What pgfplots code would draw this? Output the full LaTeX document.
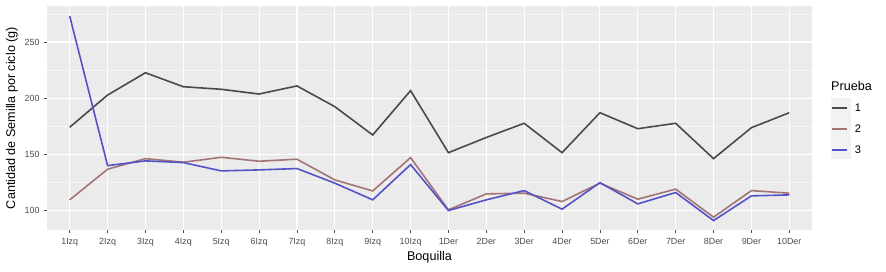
\documentclass[border=0pt]{standalone}
\usepackage{fontspec}
\setmainfont{Liberation Sans}
\usepackage{pgfplots}
\pgfplotsset{compat=1.18}
\definecolor{panelbg}{HTML}{EBEBEB}
\definecolor{ticktxt}{HTML}{4D4D4D}
\definecolor{sone}{HTML}{4A4A4A}
\definecolor{stwo}{HTML}{A37474}
\definecolor{sthree}{HTML}{5552C8}
\begin{document}
\begin{tikzpicture}[x=1pt,y=1pt]
\path[use as bounding box] (0,0) rectangle (886,271);
\fill[black!5] (831,112.5) rectangle (851,173.5);
\begin{axis}[
  at={(47pt,41pt)}, anchor=south west,
  scale only axis, width=765pt, height=224pt,
  xmin=-0.6, xmax=19.6, ymin=83, ymax=282,
  axis background/.style={fill=panelbg},
  axis line style={draw=none},
  xtick={0,...,19},
  xticklabels={1Izq,2Izq,3Izq,4Izq,5Izq,6Izq,7Izq,8Izq,9Izq,10Izq,1Der,2Der,3Der,4Der,5Der,6Der,7Der,8Der,9Der,10Der},
  ytick={100,150,200,250},
  minor ytick={125,175,225,275},
  grid=both,
  major grid style={white, line width=1.1pt},
  minor grid style={white!60!panelbg, line width=0.5pt},
  tick align=outside, major tick length=3pt, minor tick length=0pt,
  tick style={color=ticktxt, line width=0.8pt},
  xtick pos=bottom, ytick pos=left,
  /pgf/number format/assume math mode=true,
  ticklabel style={font=\fontsize{8.9}{10}\selectfont, text=ticktxt},
  xticklabel style={yshift=-2pt},
  yticklabel style={xshift=-1pt},
  xlabel={Boquilla},
  ylabel={Cantidad de Semilla por ciclo (g)},
  label style={font=\fontsize{12.6}{14}\selectfont},
  xlabel style={at={(axis description cs:0.5,-0.12)}, anchor=center},
  ylabel style={at={(axis description cs:-0.046,0.5)}, anchor=center},
  legend cell align=left,
  legend image code/.code={%
    \draw[#1, line width=1.8pt] (2pt,0pt) -- (17pt,0pt);},
  legend style={at={(rel axis cs:1.0248,0.5915)}, anchor=north west,
    draw=none, fill=none, inner sep=0pt, row sep=0pt,
    font=\fontsize{11}{13}\selectfont,
    nodes={inner sep=1pt, minimum height=21pt},
    /tikz/every odd column/.append style={column sep=6pt}},
]
\addplot[sone, line width=1.6pt] coordinates {
(0,174.3) (1,202.9) (2,222.7) (3,210.3) (4,208) (5,203.8) (6,211) (7,192.6) (8,167.4) (9,206.8)
(10,151.7) (11,165.2) (12,177.8) (13,151.7) (14,187.2) (15,173) (16,177.8) (17,146.4) (18,173.9) (19,187.2)};
\addlegendentry{1}
\addplot[stwo, line width=1.6pt] coordinates {
(0,109.8) (1,137) (2,146.4) (3,143.2) (4,147.6) (5,144.1) (6,145.9) (7,127.5) (8,117.7) (9,147.3)
(10,100.9) (11,115.1) (12,115.7) (13,108.3) (14,124.6) (15,110.4) (16,119.3) (17,94.4) (18,118) (19,115.7)};
\addlegendentry{2}
\addplot[sthree, line width=1.6pt] coordinates {
(0,273) (1,140.2) (2,144.4) (3,142.9) (4,135.5) (5,136.4) (6,137.6) (7,124.6) (8,109.8) (9,141.1)
(10,100.3) (11,109.8) (12,118) (13,101.5) (14,125.1) (15,106.2) (16,116.3) (17,91.4) (18,113.3) (19,114.2)};
\addlegendentry{3}
\end{axis}
\node[anchor=west, font=\fontsize{12.6}{14}\selectfont, inner sep=0pt] at (831,185) {Prueba};
\end{tikzpicture}
\end{document}
